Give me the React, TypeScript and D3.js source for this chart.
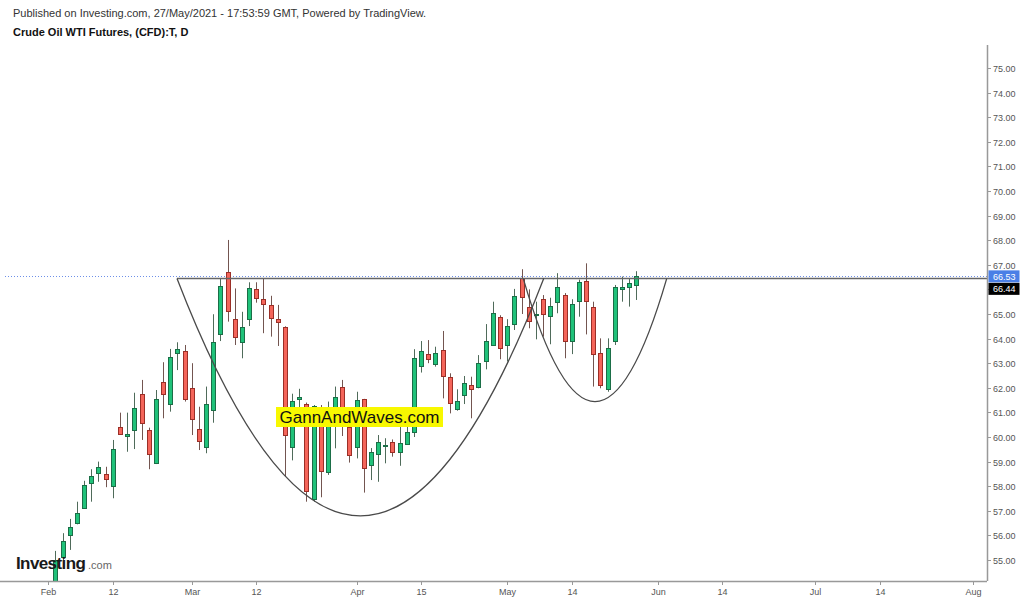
import React, { useRef, useEffect } from "react";
import * as d3 from "d3";

// trading calendar (weekdays, Good Friday closed)
const firstDay = "2021-02-01";
const lastDay = "2021-08-02";
const holidays = ["2021-04-02"];

// daily candles, consecutive trading days from candleStart
const candleStart = "2021-02-02";
const opens = [
  54.0, 55.14, 56.02, 56.53, 57.13, 58.16, 58.52, 58.48, 58.02, 60.42,
  60.04, 60.28, 61.75, 60.28, 58.93, 62.22, 61.34, 63.43, 63.5, 61.98,
  60.31, 59.61, 61.13, 64.19, 66.69, 64.79, 63.88, 64.76, 66.0, 65.6,
  65.37, 64.79, 64.46, 59.62, 61.55, 61.36, 57.47, 61.22, 58.56, 60.7,
  62.02, 60.4, 59.58, 61.53, 58.86, 59.33, 59.62, 59.81, 59.4, 59.72,
  60.2, 62.89, 63.36, 63.0, 63.54, 62.45, 61.14, 61.71, 62.11, 62.01,
  63.09, 63.74, 64.89, 63.74, 64.59, 66.45, 65.3, 64.93, 65.61, 64.93,
  65.48, 65.77, 63.9, 65.54, 66.36, 65.3, 63.43, 61.95, 63.9, 66.04,
  66.09, 66.15,
];
const highs = [
  55.37, 56.09, 56.67, 57.37, 58.22, 58.69, 59.0, 58.79, 59.88, 60.99,
  60.99, 61.8, 62.32, 60.38, 61.91, 63.04, 63.58, 63.85, 63.74, 63.0,
  61.23, 62.05, 64.99, 66.45, 68.01, 66.04, 65.09, 66.29, 66.29, 66.45,
  65.74, 65.37, 64.5, 61.76, 61.96, 61.4, 61.3, 61.3, 61.44, 62.05,
  62.32, 60.8, 61.84, 61.55, 59.55, 60.08, 59.95, 59.9, 60.42, 60.42,
  63.57, 63.9, 63.94, 63.67, 64.31, 62.59, 61.94, 62.48, 62.45, 63.33,
  64.59, 65.5, 64.95, 64.79, 66.02, 66.82, 66.0, 65.5, 65.77, 65.66,
  66.66, 65.85, 65.6, 66.4, 67.06, 65.5, 64.01, 64.01, 66.18, 66.52,
  66.45, 66.74,
];
const lows = [
  53.8, 55.0, 55.41, 56.45, 57.1, 57.37, 58.18, 57.96, 57.51, 60.1,
  59.4, 59.51, 59.88, 58.69, 58.9, 60.76, 61.03, 62.72, 61.44, 60.08,
  59.47, 59.34, 60.58, 63.9, 64.69, 63.74, 63.2, 64.51, 65.46, 64.22,
  64.08, 63.7, 58.4, 59.05, 60.6, 57.37, 57.37, 57.55, 58.46, 59.54,
  60.04, 58.96, 59.13, 57.74, 58.25, 58.18, 58.93, 59.2, 58.83, 59.7,
  60.0, 62.62, 63.0, 62.86, 61.57, 60.96, 61.07, 61.34, 60.76, 61.98,
  62.75, 63.7, 63.16, 63.07, 64.35, 65.0, 64.42, 63.97, 64.08, 63.77,
  65.03, 63.2, 63.37, 64.89, 64.17, 62.05, 61.98, 61.84, 63.74, 65.5,
  65.3, 65.57,
];
const closes = [
  55.0, 55.79, 56.33, 56.93, 58.05, 58.43, 58.77, 58.29, 59.51, 60.15,
  60.11, 61.19, 60.56, 59.3, 61.54, 61.74, 63.27, 63.58, 61.53, 60.72,
  59.81, 61.34, 63.88, 66.14, 65.09, 64.04, 64.49, 66.04, 65.64, 65.41,
  64.83, 64.65, 60.06, 61.48, 61.62, 57.82, 61.26, 58.63, 61.0, 61.61,
  60.55, 59.27, 61.5, 58.73, 59.37, 59.81, 59.68, 59.4, 59.77, 60.22,
  63.2, 63.5, 63.17, 63.43, 62.5, 61.4, 61.46, 62.18, 61.95, 63.0,
  63.92, 65.03, 63.63, 64.51, 65.74, 65.68, 64.73, 64.98, 64.99, 65.33,
  66.11, 63.9, 65.41, 66.32, 65.53, 63.4, 62.11, 63.61, 66.09, 66.11,
  66.25, 66.53,
];

const priceTicks = [55, 56, 57, 58, 59, 60, 61, 62, 63, 64, 65, 66, 67, 68, 69, 70, 71, 72, 73, 74, 75];
const dateTicks = [
  "2021-02-01", "2021-02-12", "2021-03-01", "2021-03-12", "2021-04-01", "2021-04-15", "2021-05-03",
  "2021-05-14", "2021-06-01", "2021-06-14", "2021-07-01", "2021-07-14", "2021-08-02",
];
const dateTickLabels = ["Feb", "12", "Mar", "12", "Apr", "15", "May", "14", "Jun", "14", "Jul", "14", "Aug"];

const lastPrice = 66.53;
const neckline = 66.44;
const necklineStart = 17.95; // bar position
// cup-shaped drawings: bar positions of rim ends and bottom price
const cupStarts = [17.95, 66.25];
const cupEnds = [69.1, 86.25];
const cupLows = [56.79, 61.44];

const FONT = "'Liberation Sans', Arial, sans-serif";

export default function App() {
  const svgRef = useRef<SVGSVGElement>(null);

  useEffect(() => {
    document.body.style.margin = "0";
    const svg = d3.select(svgRef.current);
    svg.selectAll("*").remove();

    const width = 1024;
    const height = 600;
    const plot = { left: 5, right: 987, top: 45, bottom: 581 };

    const fmt = d3.utcFormat("%Y-%m-%d");
    const calendar = d3.utcDay
      .range(new Date(firstDay), d3.utcDay.offset(new Date(lastDay), 1))
      .filter((d) => d.getUTCDay() > 0 && d.getUTCDay() < 6)
      .map(fmt)
      .filter((s) => !holidays.includes(s));

    const x = d3.scaleLinear().domain([0, calendar.length - 1]).range([48.3, 973.2]);
    const y = d3.scaleLinear().domain([55, 75]).range([560, 68]);

    const start = calendar.indexOf(candleStart);
    const candles = opens.map((o, k) => ({
      i: start + k,
      o,
      h: highs[k],
      l: lows[k],
      c: closes[k],
    }));

    svg.attr("width", width).attr("height", height).style("background", "#fff");

    svg
      .append("defs")
      .append("clipPath")
      .attr("id", "plotClip")
      .append("rect")
      .attr("x", plot.left)
      .attr("y", plot.top)
      .attr("width", plot.right - plot.left)
      .attr("height", plot.bottom - plot.top);

    // header
    svg
      .append("text")
      .attr("x", 13)
      .attr("y", 17)
      .attr("font-family", FONT)
      .attr("font-size", 11)
      .attr("fill", "#333")
      .text("Published on Investing.com, 27/May/2021 - 17:53:59 GMT, Powered by TradingView.");
    svg
      .append("text")
      .attr("x", 13)
      .attr("y", 36)
      .attr("font-family", FONT)
      .attr("font-size", 11)
      .attr("font-weight", "bold")
      .attr("fill", "#111")
      .text("Crude Oil WTI Futures, (CFD):T, D");

    const g = svg.append("g").attr("clip-path", "url(#plotClip)");

    // last price line
    g.append("line")
      .attr("x1", plot.left)
      .attr("x2", plot.right)
      .attr("y1", Math.round(y(lastPrice)) + 0.5)
      .attr("y2", Math.round(y(lastPrice)) + 0.5)
      .attr("stroke", "#6d8fe8")
      .attr("stroke-width", 1)
      .attr("stroke-dasharray", "1,2");

    // candles
    const cg = g.append("g");
    const px = (i: number) => Math.round(x(i));
    cg.selectAll(".wick")
      .data(candles)
      .enter()
      .append("line")
      .attr("x1", (d) => px(d.i) + 0.5)
      .attr("x2", (d) => px(d.i) + 0.5)
      .attr("y1", (d) => y(d.h))
      .attr("y2", (d) => y(d.l))
      .attr("stroke", (d) => (d.c >= d.o ? "#4f6b5a" : "#735550"))
      .attr("stroke-width", 1);
    cg.selectAll(".body")
      .data(candles)
      .enter()
      .append("rect")
      .attr("x", (d) => px(d.i) - 2 + 0.5)
      .attr("width", 4)
      .attr("y", (d) => Math.round(y(Math.max(d.o, d.c))) + 0.5)
      .attr("height", (d) => Math.max(1, Math.round(Math.abs(y(d.o) - y(d.c)))))
      .attr("fill", (d) => (d.c >= d.o ? "#20c27a" : "#f4655a"))
      .attr("stroke", (d) => (d.c >= d.o ? "#1b6e47" : "#9b2f27"))
      .attr("stroke-width", 1);

    // neckline ray
    g.append("line")
      .attr("x1", x(necklineStart))
      .attr("x2", plot.right)
      .attr("y1", y(neckline))
      .attr("y2", y(neckline))
      .attr("stroke", "#666")
      .attr("stroke-width", 1.5);

    // cups
    cupStarts.forEach((s, k) => {
      const p = d3.path();
      const x0 = x(s);
      const x1 = x(cupEnds[k]);
      const top = y(neckline);
      const bottom = y(cupLows[k]);
      p.moveTo(x0, top);
      p.quadraticCurveTo((x0 + x1) / 2, 2 * bottom - top, x1, top);
      g.append("path")
        .attr("d", p.toString())
        .attr("fill", "none")
        .attr("stroke", "#4a4a4a")
        .attr("stroke-width", 1.3);
    });

    // watermark label
    const wm = svg.append("g");
    wm.append("rect")
      .attr("x", 276)
      .attr("y", 407)
      .attr("width", 167)
      .attr("height", 20)
      .attr("fill", "#f8f800");
    wm.append("text")
      .attr("x", 359.5)
      .attr("y", 423)
      .attr("text-anchor", "middle")
      .attr("font-family", FONT)
      .attr("font-size", 17)
      .attr("fill", "#111")
      .text("GannAndWaves.com");

    // right price axis
    svg
      .append("line")
      .attr("x1", plot.right + 0.5)
      .attr("x2", plot.right + 0.5)
      .attr("y1", plot.top)
      .attr("y2", plot.bottom)
      .attr("stroke", "#999")
      .attr("stroke-width", 1.5);
    const ya = svg.append("g");
    priceTicks.forEach((t) => {
      const ty = Math.round(y(t)) + 0.5;
      ya.append("line")
        .attr("x1", plot.right)
        .attr("x2", plot.right + 4)
        .attr("y1", ty)
        .attr("y2", ty)
        .attr("stroke", "#999");
      ya.append("text")
        .attr("x", 993)
        .attr("y", ty + 3.5)
        .attr("font-family", FONT)
        .attr("font-size", 9)
        .attr("fill", "#555")
        .text(t.toFixed(2));
    });

    // price labels
    const blueY = y(lastPrice);
    const blackY = Math.max(y(neckline), blueY + 12.5);
    [
      { v: lastPrice, cy: blueY, fill: "#4a7fe6" },
      { v: neckline, cy: blackY, fill: "#000" },
    ].forEach((b) => {
      ya.append("rect")
        .attr("x", plot.right + 1.5)
        .attr("y", b.cy - 6)
        .attr("width", 31)
        .attr("height", 12)
        .attr("fill", b.fill);
      ya.append("text")
        .attr("x", 993)
        .attr("y", b.cy + 3.5)
        .attr("font-family", FONT)
        .attr("font-size", 9)
        .attr("fill", "#fff")
        .text(b.v.toFixed(2));
    });

    // bottom time axis
    svg
      .append("line")
      .attr("x1", 0)
      .attr("x2", plot.right)
      .attr("y1", plot.bottom + 0.5)
      .attr("y2", plot.bottom + 0.5)
      .attr("stroke", "#999")
      .attr("stroke-width", 1.5);
    const xa = svg.append("g");
    dateTicks.forEach((d, k) => {
      const tx = Math.round(x(calendar.indexOf(d))) + 0.5;
      xa.append("line")
        .attr("x1", tx)
        .attr("x2", tx)
        .attr("y1", plot.bottom)
        .attr("y2", plot.bottom + 4)
        .attr("stroke", "#999");
      xa.append("text")
        .attr("x", tx)
        .attr("y", 595)
        .attr("text-anchor", "middle")
        .attr("font-family", FONT)
        .attr("font-size", 9)
        .attr("fill", "#555")
        .text(dateTickLabels[k]);
    });

    // logo
    const logo = svg.append("g");
    logo
      .append("text")
      .attr("x", 16)
      .attr("y", 569)
      .attr("font-family", FONT)
      .attr("font-size", 17)
      .attr("font-weight", "bold")
      .attr("letter-spacing", -0.6)
      .attr("fill", "#1a1a1a")
      .text("Investing");
    logo
      .append("text")
      .attr("x", 88)
      .attr("y", 569)
      .attr("font-family", FONT)
      .attr("font-size", 11)
      .attr("fill", "#666")
      .text(".com");
  }, []);

  return <svg ref={svgRef} style={{ position: "absolute", left: 0, top: 0, display: "block" }} />;
}
